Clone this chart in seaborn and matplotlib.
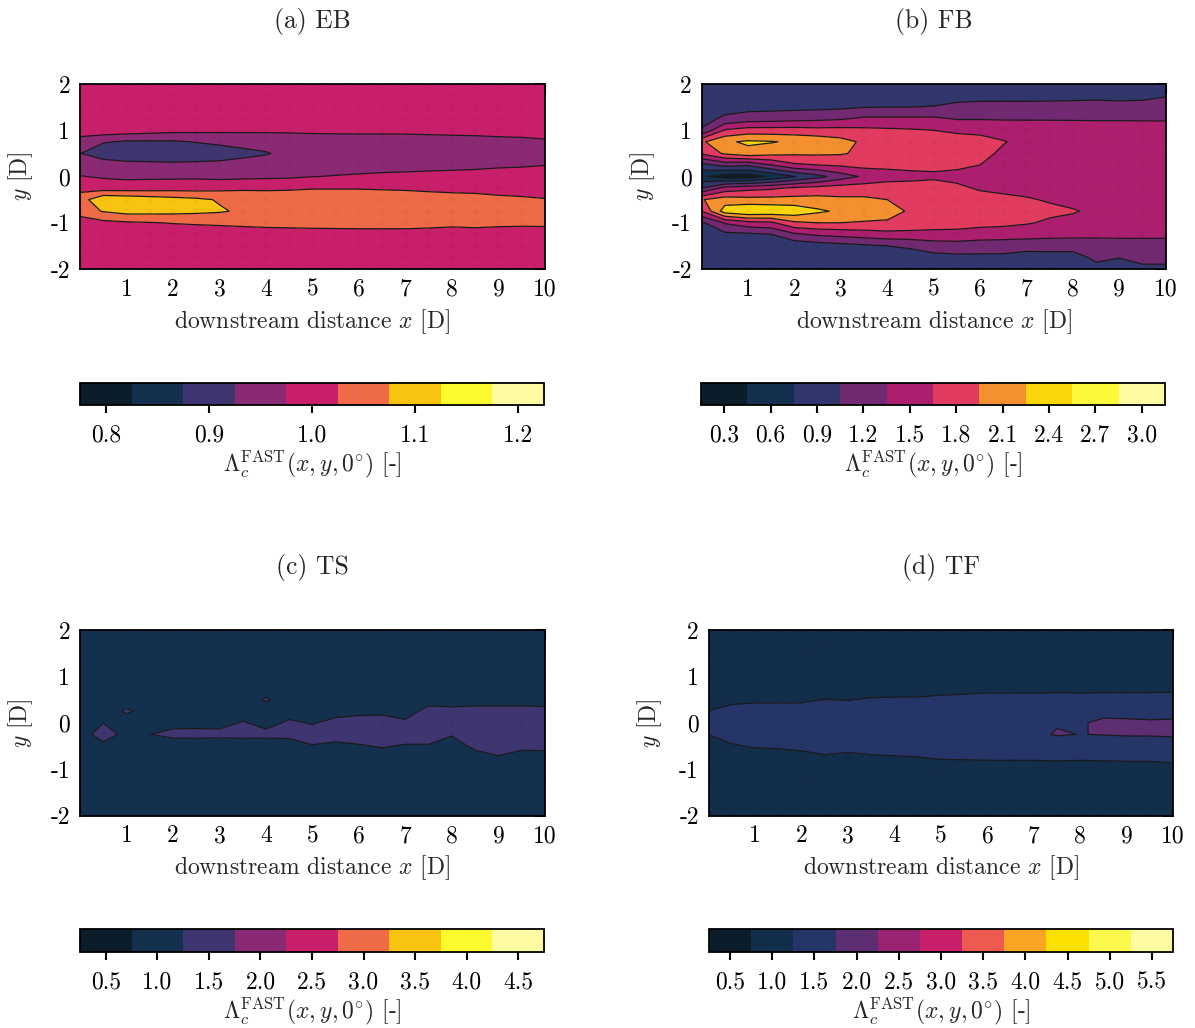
import numpy as np
import pandas as pd
import matplotlib
matplotlib.use("Agg")
import matplotlib.pyplot as plt
from matplotlib.colors import ListedColormap, BoundaryNorm
import seaborn as sns

# ---------------- data ----------------
x_grid = [0.0, 0.5, 1.0, 1.5, 2.0, 2.5, 3.0, 3.5, 4.0, 4.5, 5.0,
          5.5, 6.0, 6.5, 7.0, 7.5, 8.0, 8.5, 9.0, 9.5, 10.0]
y_grid = [-2.0, -1.75, -1.5, -1.25, -1.0, -0.75, -0.5, -0.25, 0.0,
          0.25, 0.5, 0.75, 1.0, 1.25, 1.5, 1.75, 2.0]

# each inner list: one x column, values from y=-2 to y=2
EB_cols = [
    [1.0, 1.0, 1.0, 1.0, 0.995, 1.05, 1.05, 1.01, 0.977, 0.95, 0.927, 0.955, 1.0, 1.0, 1.0, 1.0, 1.0],
    [1.0, 1.0, 1.0, 1.0, 1.012, 1.078, 1.117, 1.0, 0.97, 0.959, 0.888, 0.93, 1.005, 1.0, 1.0, 1.0, 1.0],
    [1.0, 1.0, 1.0, 1.0, 1.019, 1.093, 1.110, 1.0, 0.965, 0.9415, 0.89, 0.918, 1.002, 1.0, 1.0, 1.0, 1.0],
    [1.0, 1.0, 1.0, 1.0, 1.023, 1.092, 1.101, 1.002, 0.966, 0.939, 0.89, 0.918, 0.995, 1.0, 1.0, 1.0, 1.0],
    [1.0, 1.0, 1.0, 1.0, 1.027, 1.090, 1.0925, 1.005, 0.966, 0.936, 0.89, 0.919, 0.989, 1.0, 1.0, 1.0, 1.0],
    [1.0, 1.0, 1.0, 1.0, 1.030, 1.086, 1.0845, 1.005, 0.967, 0.937, 0.895, 0.927, 0.987, 1.0, 1.0, 1.0, 1.0],
    [1.0, 1.0, 1.0, 1.0, 1.033, 1.08, 1.071, 1.01, 0.962, 0.939, 0.90, 0.935, 0.985, 1.0, 1.0, 1.0, 1.0],
    [1.0, 1.0, 1.0, 1.0, 1.037, 1.068, 1.06, 1.016, 0.964, 0.9475, 0.91, 0.944, 0.983, 1.0, 1.0, 1.0, 1.0],
    [1.0, 1.0, 1.0, 1.0, 1.042, 1.062, 1.055, 1.016, 0.966, 0.95, 0.921, 0.948, 0.982, 1.0, 1.0, 1.0, 1.0],
    [1.0, 1.0, 1.0, 1.0, 1.045, 1.06, 1.055, 1.018, 0.968, 0.953, 0.94, 0.952, 0.982, 1.0, 1.0, 1.0, 1.0],
    [1.0, 1.0, 1.0, 1.0, 1.048, 1.06, 1.055, 1.022, 0.974, 0.955, 0.945, 0.955, 0.983, 1.0, 1.0, 1.0, 1.0],
    [1.0, 1.0, 1.0, 1.0, 1.05, 1.059, 1.055, 1.022, 0.977, 0.957, 0.947, 0.955, 0.984, 1.0, 1.0, 1.0, 1.0],
    [1.0, 1.0, 1.0, 1.0, 1.052, 1.058, 1.055, 1.022, 0.98, 0.958, 0.948, 0.956, 0.984, 1.0, 1.0, 1.0, 1.0],
    [1.0, 1.0, 1.0, 1.0, 1.052, 1.056, 1.053, 1.02, 0.983, 0.959, 0.949, 0.956, 0.984, 1.0, 1.0, 1.0, 1.0],
    [1.0, 1.0, 1.0, 1.0, 1.052, 1.055, 1.052, 1.018, 0.985, 0.96, 0.95, 0.957, 0.984, 1.0, 1.0, 1.0, 1.0],
    [1.0, 1.0, 1.0, 1.0, 1.046, 1.055, 1.051, 1.013, 0.988, 0.961, 0.951, 0.957, 0.986, 1.0, 1.0, 1.0, 1.0],
    [1.0, 1.0, 1.0, 1.0, 1.039, 1.055, 1.05, 1.008, 0.99, 0.962, 0.952, 0.958, 0.988, 1.0, 1.0, 1.0, 1.0],
    [1.0, 1.0, 1.0, 1.0, 1.044, 1.055, 1.048, 1.005, 0.992, 0.964, 0.953, 0.958, 0.99, 1.0, 1.0, 1.0, 1.0],
    [1.0, 1.0, 1.0, 1.0, 1.038, 1.055, 1.04, 1.0, 0.995, 0.968, 0.955, 0.96, 0.994, 1.0, 1.0, 1.0, 1.0],
    [1.0, 1.0, 1.0, 1.0, 1.036, 1.052, 1.035, 0.998, 0.997, 0.97, 0.956, 0.962, 0.996, 1.0, 1.0, 1.0, 1.0],
    [1.0, 1.0, 1.0, 1.0, 1.037, 1.05, 1.028, 0.998, 0.998, 0.974, 0.958, 0.965, 1.007, 1.0, 1.0, 1.0, 1.0],
]

FB_cols = [
    [0.9, 0.9, 0.9, 0.95, 1.0, 1.65, 1.93, 1.05, 0.5, 0.95, 1.7, 1.9, 1.08, 0.95, 0.95, 0.95, 0.95],
    [0.85, 0.85, 0.9, 0.98, 1.38, 2.4, 2.1, 1.45, 0.3, 1.15, 2.0, 2.2, 1.68, 1.1, 0.95, 0.9, 0.9],
    [0.85, 0.85, 0.9, 1.0, 1.55, 2.54, 2.05, 1.55, 0.28, 1.1, 2.15, 2.3, 1.78, 1.2, 0.95, 0.9, 0.9],
    [0.85, 0.88, 0.92, 1.05, 1.6, 2.5, 2.05, 1.6, 0.5, 1.35, 2.05, 2.27, 1.78, 1.22, 0.96, 0.9, 0.9],
    [0.85, 0.82, 0.85, 1.3, 1.9, 2.45, 2.05, 1.7, 0.74, 1.6, 2.0, 2.2, 1.78, 1.25, 0.97, 0.9, 0.9],
    [0.85, 0.85, 0.9, 1.4, 1.95, 2.3, 2.05, 1.75, 0.95, 1.65, 2.0, 2.15, 1.75, 1.28, 0.98, 0.9, 0.9],
    [0.85, 0.85, 0.95, 1.45, 1.95, 2.2, 2.0, 1.8, 1.2, 1.7, 1.98, 2.05, 1.75, 1.32, 1.0, 0.92, 0.9],
    [0.85, 0.85, 1.0, 1.5, 1.92, 2.15, 2.0, 1.8, 1.4, 1.75, 1.88, 1.9, 1.72, 1.4, 1.04, 0.92, 0.9],
    [0.85, 0.88, 1.05, 1.55, 1.9, 2.1, 1.95, 1.85, 1.48, 1.75, 1.82, 1.85, 1.7, 1.4, 1.05, 0.93, 0.9],
    [0.85, 0.9, 1.1, 1.55, 1.85, 1.9, 1.85, 1.8, 1.55, 1.75, 1.8, 1.82, 1.68, 1.4, 1.05, 0.93, 0.9],
    [0.85, 0.95, 1.2, 1.55, 1.8, 1.85, 1.82, 1.78, 1.6, 1.72, 1.78, 1.8, 1.65, 1.4, 1.06, 0.95, 0.9],
    [0.88, 0.98, 1.22, 1.55, 1.78, 1.82, 1.8, 1.7, 1.58, 1.7, 1.76, 1.78, 1.6, 1.33, 1.12, 0.95, 0.9],
    [0.88, 0.98, 1.2, 1.5, 1.75, 1.8, 1.75, 1.62, 1.55, 1.65, 1.7, 1.72, 1.6, 1.33, 1.13, 0.97, 0.9],
    [0.88, 0.98, 1.2, 1.48, 1.73, 1.78, 1.72, 1.58, 1.5, 1.55, 1.62, 1.66, 1.58, 1.32, 1.13, 0.97, 0.9],
    [0.88, 0.89, 1.2, 1.45, 1.68, 1.75, 1.68, 1.55, 1.48, 1.52, 1.58, 1.6, 1.55, 1.32, 1.13, 0.97, 0.9],
    [0.88, 0.9, 1.2, 1.43, 1.6, 1.72, 1.62, 1.52, 1.47, 1.5, 1.56, 1.58, 1.55, 1.32, 1.14, 0.97, 0.9],
    [0.86, 0.92, 1.18, 1.43, 1.58, 1.67, 1.58, 1.5, 1.47, 1.5, 1.55, 1.55, 1.52, 1.32, 1.15, 0.97, 0.9],
    [0.95, 1.12, 1.2, 1.42, 1.55, 1.6, 1.55, 1.48, 1.47, 1.5, 1.53, 1.55, 1.5, 1.32, 1.16, 0.98, 0.9],
    [0.9, 1.06, 1.22, 1.42, 1.53, 1.57, 1.52, 1.47, 1.46, 1.48, 1.52, 1.53, 1.5, 1.32, 1.13, 0.98, 0.9],
    [1.0, 1.12, 1.22, 1.42, 1.52, 1.55, 1.5, 1.46, 1.45, 1.47, 1.5, 1.52, 1.48, 1.32, 1.15, 0.98, 0.9],
    [1.0, 1.12, 1.22, 1.42, 1.5, 1.53, 1.48, 1.45, 1.44, 1.46, 1.48, 1.5, 1.47, 1.32, 1.2, 1.03, 0.9],
]

TS_cols = [
    [1.0, 1.0, 1.0, 1.0, 1.0, 1.0, 1.0, 0.9, 1.0, 1.0, 1.0, 1.0, 1.0, 1.0, 1.0, 1.0, 1.0],
    [1.0, 1.0, 1.0, 1.0, 1.0, 1.0, 1.05, 1.6, 1.24, 1.0, 1.0, 1.0, 1.0, 1.0, 1.0, 1.0, 1.0],
    [1.0, 1.0, 1.0, 1.0, 1.0, 1.0, 1.0, 1.03, 1.0, 1.32, 1.0, 1.0, 1.0, 1.0, 1.0, 1.0, 1.0],
    [1.0, 1.0, 1.0, 1.0, 1.0, 1.0, 1.0, 1.24, 1.0, 1.1, 1.0, 1.0, 1.0, 1.0, 1.0, 1.0, 1.0],
    [1.0, 1.0, 1.0, 1.0, 1.0, 0.95, 0.85, 1.45, 1.03, 1.0, 1.0, 1.0, 1.0, 1.0, 1.0, 1.0, 1.0],
    [1.0, 1.0, 1.0, 1.0, 1.0, 1.0, 0.85, 1.45, 1.05, 1.0, 1.0, 1.0, 1.0, 1.0, 1.0, 1.0, 1.0],
    [1.0, 1.0, 1.0, 1.0, 1.0, 1.0, 0.82, 1.45, 1.02, 1.0, 1.0, 1.0, 1.0, 1.0, 1.0, 1.0, 1.0],
    [1.0, 1.0, 1.0, 1.0, 1.0, 1.0, 0.85, 1.45, 1.3, 1.0, 1.0, 1.0, 1.0, 1.0, 1.0, 1.0, 1.0],
    [1.0, 1.0, 1.0, 1.0, 1.0, 1.0, 0.85, 1.45, 1.02, 1.0, 1.31, 1.0, 1.0, 1.0, 1.0, 1.0, 1.0],
    [1.0, 1.0, 1.0, 1.0, 1.0, 1.0, 0.8, 1.5, 1.35, 1.0, 1.0, 1.0, 1.0, 1.0, 1.0, 1.0, 1.0],
    [1.0, 1.0, 1.0, 1.0, 1.0, 1.0, 1.22, 1.5, 1.2, 1.0, 1.0, 1.0, 1.0, 1.0, 1.0, 1.0, 1.0],
    [1.0, 1.0, 1.0, 1.0, 1.0, 1.0, 1.11, 1.5, 1.45, 1.0, 1.0, 1.0, 1.0, 1.0, 1.0, 1.0, 1.0],
    [1.0, 1.0, 1.0, 1.0, 1.0, 1.0, 1.2, 1.55, 1.5, 1.1, 1.0, 1.0, 1.0, 1.0, 1.0, 1.0, 1.0],
    [1.0, 1.0, 1.0, 1.0, 1.0, 1.0, 1.3, 1.55, 1.5, 1.12, 1.0, 1.0, 1.0, 1.0, 1.0, 1.0, 1.0],
    [1.0, 1.0, 1.0, 1.0, 1.0, 1.0, 1.2, 1.55, 1.35, 1.0, 1.0, 1.0, 1.0, 1.0, 1.0, 1.0, 1.0],
    [1.0, 1.0, 1.0, 1.0, 1.0, 1.0, 1.2, 1.55, 1.55, 1.45, 1.0, 1.0, 1.0, 1.0, 1.0, 1.0, 1.0],
    [1.0, 1.0, 1.0, 1.0, 1.0, 1.0, 0.95, 1.3, 1.5, 1.4, 1.0, 1.0, 1.0, 1.0, 1.0, 1.0, 1.0],
    [1.0, 1.0, 1.0, 1.0, 1.0, 1.0, 1.4, 1.6, 1.55, 1.45, 1.0, 1.0, 1.0, 1.0, 1.0, 1.0, 1.0],
    [1.0, 1.0, 1.0, 1.0, 1.0, 1.2, 1.5, 1.65, 1.6, 1.45, 1.0, 1.0, 1.0, 1.0, 1.0, 1.0, 1.0],
    [1.0, 1.0, 1.0, 1.0, 1.0, 1.0, 1.4, 1.65, 1.6, 1.45, 1.0, 1.0, 1.0, 1.0, 1.0, 1.0, 1.0],
    [1.0, 1.0, 1.0, 1.0, 1.0, 1.0, 1.42, 1.65, 1.6, 1.42, 1.0, 1.0, 1.0, 1.0, 1.0, 1.0, 1.0],
]

TF_cols = [
    [1.0, 1.0, 1.0, 1.0, 1.0, 1.0, 1.0, 1.26, 1.45, 1.26, 1.0, 1.0, 1.0, 1.0, 1.0, 1.0, 1.0],
    [1.0, 1.0, 1.0, 1.0, 1.0, 1.0, 1.2, 1.45, 1.5, 1.45, 1.1, 1.0, 1.0, 1.0, 1.0, 1.0, 1.0],
    [1.0, 1.0, 1.0, 1.0, 1.0, 1.0, 1.3, 1.5, 1.55, 1.5, 1.15, 1.0, 1.0, 1.0, 1.0, 1.0, 1.0],
    [1.0, 1.0, 1.0, 1.0, 1.0, 1.0, 1.33, 1.5, 1.55, 1.5, 1.15, 1.0, 1.0, 1.0, 1.0, 1.0, 1.0],
    [1.0, 1.0, 1.0, 1.0, 1.0, 1.1, 1.36, 1.5, 1.55, 1.5, 1.15, 1.0, 1.0, 1.0, 1.0, 1.0, 1.0],
    [1.0, 1.0, 1.0, 1.0, 1.0, 1.2, 1.4, 1.52, 1.55, 1.5, 1.26, 1.0, 1.0, 1.0, 1.0, 1.0, 1.0],
    [1.0, 1.0, 1.0, 1.0, 1.0, 1.15, 1.38, 1.52, 1.55, 1.5, 1.23, 1.0, 1.0, 1.0, 1.0, 1.0, 1.0],
    [1.0, 1.0, 1.0, 1.0, 1.0, 1.2, 1.4, 1.52, 1.55, 1.52, 1.3, 1.0, 1.0, 1.0, 1.0, 1.0, 1.0],
    [1.0, 1.0, 1.0, 1.0, 1.0, 1.22, 1.42, 1.53, 1.55, 1.52, 1.32, 1.0, 1.0, 1.0, 1.0, 1.0, 1.0],
    [1.0, 1.0, 1.0, 1.0, 1.0, 1.24, 1.42, 1.53, 1.55, 1.52, 1.32, 1.0, 1.0, 1.0, 1.0, 1.0, 1.0],
    [1.0, 1.0, 1.0, 1.0, 1.0, 1.3, 1.45, 1.55, 1.57, 1.53, 1.4, 1.0, 1.0, 1.0, 1.0, 1.0, 1.0],
    [1.0, 1.0, 1.0, 1.0, 1.0, 1.31, 1.45, 1.55, 1.57, 1.53, 1.42, 1.05, 1.0, 1.0, 1.0, 1.0, 1.0],
    [1.0, 1.0, 1.0, 1.0, 1.0, 1.33, 1.45, 1.56, 1.58, 1.55, 1.45, 1.1, 1.0, 1.0, 1.0, 1.0, 1.0],
    [1.0, 1.0, 1.0, 1.0, 1.0, 1.33, 1.45, 1.56, 1.58, 1.55, 1.45, 1.1, 1.0, 1.0, 1.0, 1.0, 1.0],
    [1.0, 1.0, 1.0, 1.0, 1.0, 1.33, 1.45, 1.61, 1.6, 1.56, 1.45, 1.08, 1.0, 1.0, 1.0, 1.0, 1.0],
    [1.0, 1.0, 1.0, 1.0, 1.0, 1.35, 1.4, 1.8, 1.7, 1.6, 1.48, 1.1, 1.0, 1.0, 1.0, 1.0, 1.0],
    [1.0, 1.0, 1.0, 1.0, 1.0, 1.33, 1.42, 1.74, 1.7, 1.6, 1.46, 1.08, 1.0, 1.0, 1.0, 1.0, 1.0],
    [1.0, 1.0, 1.0, 1.0, 1.0, 1.35, 1.45, 1.77, 1.85, 1.6, 1.48, 1.1, 1.0, 1.0, 1.0, 1.0, 1.0],
    [1.0, 1.0, 1.0, 1.0, 1.0, 1.37, 1.45, 1.8, 1.83, 1.6, 1.48, 1.1, 1.0, 1.0, 1.0, 1.0, 1.0],
    [1.0, 1.0, 1.0, 1.0, 1.0, 1.37, 1.45, 1.8, 1.8, 1.6, 1.48, 1.1, 1.0, 1.0, 1.0, 1.0, 1.0],
    [1.0, 1.0, 1.0, 1.0, 1.1, 1.4, 1.5, 1.82, 1.82, 1.6, 1.48, 1.12, 1.0, 1.0, 1.0, 1.0, 1.0],
]

titles = ["(a) EB", "(b) FB", "(c) TS", "(d) TF"]

levels_a = [0.775, 0.825, 0.875, 0.925, 0.975, 1.025, 1.075, 1.125, 1.175, 1.225]
levels_b = [0.15, 0.45, 0.75, 1.05, 1.35, 1.65, 1.95, 2.25, 2.55, 2.85, 3.15]
levels_c = [0.25, 0.75, 1.25, 1.75, 2.25, 2.75, 3.25, 3.75, 4.25, 4.75]
levels_d = [0.25, 0.75, 1.25, 1.75, 2.25, 2.75, 3.25, 3.75, 4.25, 4.75, 5.25, 5.75]

ticks_a = [0.8, 0.9, 1.0, 1.1, 1.2]
ticks_b = [0.3, 0.6, 0.9, 1.2, 1.5, 1.8, 2.1, 2.4, 2.7, 3.0]
ticks_c = [0.5, 1.0, 1.5, 2.0, 2.5, 3.0, 3.5, 4.0, 4.5]
ticks_d = [0.5, 1.0, 1.5, 2.0, 2.5, 3.0, 3.5, 4.0, 4.5, 5.0, 5.5]

x_ticks = [1, 2, 3, 4, 5, 6, 7, 8, 9, 10]
y_ticks = [-2, -1.5, -1, -0.5, 0, 0.5, 1, 1.5, 2]
y_ticklabels = ["-2", "", "-1", "", "0", "", "1", "", "2"]

# ---------------- style ----------------
colors_a = ['#0b1d2b', '#13314f', '#3f3570', '#8a2a74', '#c71f69',
            '#ef6b47', '#f9c311', '#fdf92f', '#fefca3']
colors_b = ['#0b1d2b', '#13314f', '#31366c', '#712a72', '#ab1f6e',
            '#e13b5f', '#f49030', '#fad50a', '#fdf93a', '#fefca3']
colors_c = colors_a
colors_d = ['#0b1d2b', '#122e4b', '#253568', '#5e2e72', '#9a2471', '#c71f69',
            '#ee5a50', '#f9a423', '#fbe000', '#fdf94c', '#fefca3']

sns.set_theme(style="white")
plt.rcParams["font.family"] = ["cmr10", "DejaVu Serif"]
plt.rcParams["mathtext.fontset"] = "cm"
plt.rcParams["axes.unicode_minus"] = False
plt.rcParams["axes.formatter.use_mathtext"] = True

W, H = 1195, 1028
fig = plt.figure(figsize=(W / 100, H / 100), dpi=100)


def rect(l, t, w, h):
    return [l / W, 1 - (t + h) / H, w / W, h / H]


panel_rects = [(80, 84, 465, 185), (701.7, 84, 464, 185),
               (80, 630, 465, 185.5), (708.7, 630, 464.5, 185.5)]
cbar_rects = [(80, 383, 464, 22), (701, 383, 464, 22),
              (80, 929, 464, 23), (709, 929, 464, 23)]

panels = [
    (EB_cols, levels_a, ticks_a, colors_a),
    (FB_cols, levels_b, ticks_b, colors_b),
    (TS_cols, levels_c, ticks_c, colors_c),
    (TF_cols, levels_d, ticks_d, colors_d),
]

FS = 17
cbar_label = r"$\Lambda_c^{\mathrm{FAST}}(x, y, 0^{\circ})$ [-]"

X, Y = np.meshgrid(np.array(x_grid), np.array(y_grid))
pts = pd.DataFrame({"x": X.ravel(), "y": Y.ravel()})

for i, (cols, levels, cticks, colors) in enumerate(panels):
    Z = np.array(cols).T
    ax = fig.add_axes(rect(*panel_rects[i]))
    cmap = ListedColormap(colors)
    norm = BoundaryNorm(levels, ncolors=len(colors))
    cf = ax.contourf(X, Y, Z, levels=levels, cmap=cmap, norm=norm)
    ax.contour(X, Y, Z, levels=levels, colors="k", linewidths=0.9)
    sns.scatterplot(data=pts, x="x", y="y", ax=ax, s=7, marker="o",
                    color="none", edgecolor="black", linewidth=0.5,
                    alpha=0.08, legend=False, zorder=3)
    ax.set_xlim(0, 10)
    ax.set_ylim(-2, 2)
    ax.set_xticks(x_ticks)
    ax.set_xticklabels([str(v) for v in x_ticks])
    ax.set_yticks(y_ticks)
    ax.set_yticklabels(y_ticklabels)
    ax.minorticks_off()
    ax.tick_params(direction="in", length=7, width=1.5, top=True, right=True,
                   labelsize=FS, pad=7, colors="black")
    for sp in ax.spines.values():
        sp.set_linewidth(1.3)
        sp.set_color("black")
    ax.set_xlabel(r"downstream distance $x$ [D]", fontsize=FS, labelpad=4.5)
    ax.set_ylabel(r"$y$ [D]", fontsize=FS, labelpad=11)
    ax.set_title(titles[i], fontsize=18.5, pad=40)

    cax = fig.add_axes(rect(*cbar_rects[i]))
    cb = fig.colorbar(cf, cax=cax, orientation="horizontal", ticks=cticks)
    cb.ax.minorticks_off()
    cb.ax.set_xticks(cticks)
    cb.ax.set_xticklabels(["%.1f" % t for t in cticks])
    cb.ax.tick_params(which="major", direction="out", length=6, width=1.5,
                      labelsize=FS, pad=8, colors="black", bottom=True)
    cb.ax.tick_params(which="minor", length=0)
    cb.outline.set_linewidth(1.3)
    cb.outline.set_edgecolor("black")
    cb.set_label(cbar_label, fontsize=FS, labelpad=1)

fig.savefig("out.png", dpi=100)
